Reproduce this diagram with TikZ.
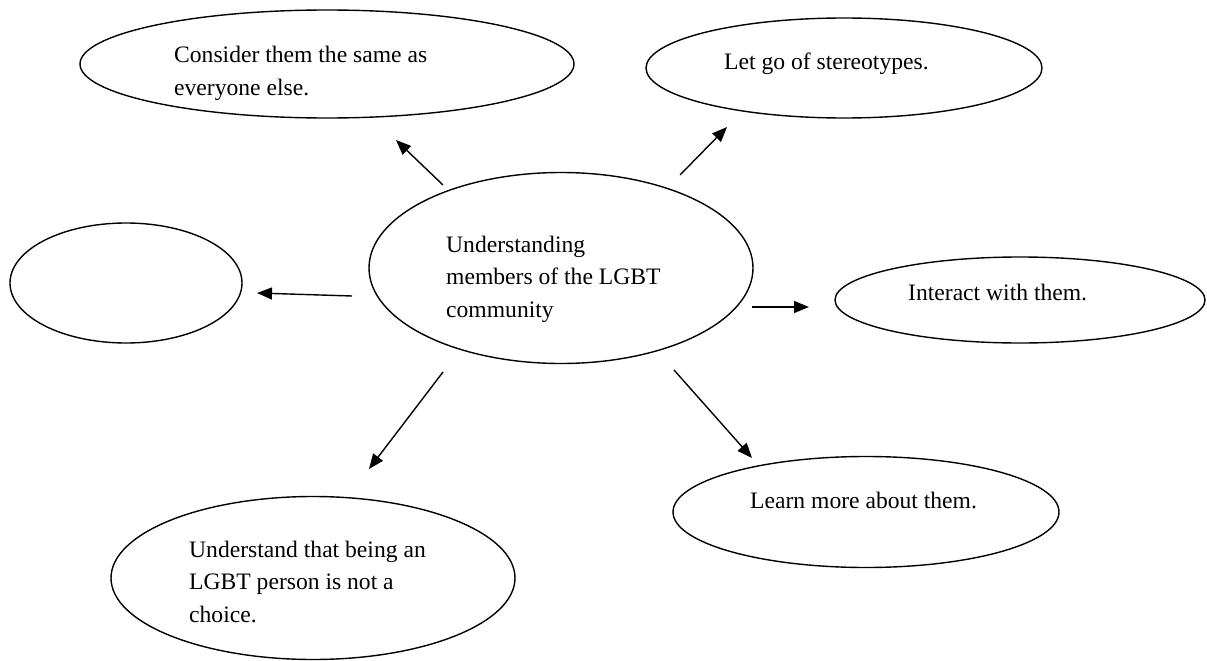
\documentclass[tikz,border=0pt]{standalone}
\usepackage{fontspec}
\setmainfont{Liberation Serif}
\usetikzlibrary{shapes.geometric,arrows.meta}
\begin{document}
\begin{tikzpicture}[x=1pt,y=-1pt,
  bub/.style={draw, ellipse, line width=1.4pt, inner sep=0pt},
  txt/.style={anchor=base west, inner sep=0pt, font=\fontsize{23.6pt}{32.5pt}\selectfont},
  arr/.style={line width=1.4pt, -{Triangle[length=15pt,width=12pt]}}
]
\useasboundingbox (0,0) rectangle (1207,661);
% ellipses
\node[bub, minimum width=494pt, minimum height=108pt] (e1) at (327,64) {};
\node[bub, minimum width=396pt, minimum height=100pt] (e2) at (844,68) {};
\node[bub, minimum width=232pt, minimum height=120pt] (e3) at (126,283) {};
\node[bub, minimum width=384pt, minimum height=191pt] (c) at (561,268) {};
\node[bub, minimum width=370pt, minimum height=86pt] (e4) at (1020,300) {};
\node[bub, minimum width=386pt, minimum height=111pt] (e5) at (866,512) {};
\node[bub, minimum width=404pt, minimum height=163pt] (e6) at (313,578) {};
% texts
\node[txt] (t1) at (174,63) {\parbox[t]{400pt}{Consider them the same as\\everyone else.}};
\node[txt] (t2) at (724,70) {Let go of stereotypes.};
\node[txt] (tc) at (446,252) {\parbox[t]{300pt}{Understanding\\members of the LGBT\\community}};
\node[txt] (t4) at (908,300) {Interact with them.};
\node[txt] (t5) at (750,508) {Learn more about them.};
\node[txt] (t6) at (189,557) {\parbox[t]{300pt}{Understand that being an\\LGBT person is not a\\choice.}};
% arrow ends
\coordinate (a1s) at (443,185); \coordinate (a1e) at (396,140);
\coordinate (a2s) at (680,175); \coordinate (a2e) at (727,127);
\coordinate (a3s) at (352,296); \coordinate (a3e) at (257,293);
\coordinate (a4s) at (752,307); \coordinate (a4e) at (809,307);
\coordinate (a5s) at (443,372); \coordinate (a5e) at (369,469);
\coordinate (a6s) at (674,370); \coordinate (a6e) at (752,458);
\draw[arr] (a1s) -- (a1e);
\draw[arr] (a2s) -- (a2e);
\draw[arr] (a3s) -- (a3e);
\draw[arr] (a4s) -- (a4e);
\draw[arr] (a5s) -- (a5e);
\draw[arr] (a6s) -- (a6e);
\end{tikzpicture}
\end{document}
